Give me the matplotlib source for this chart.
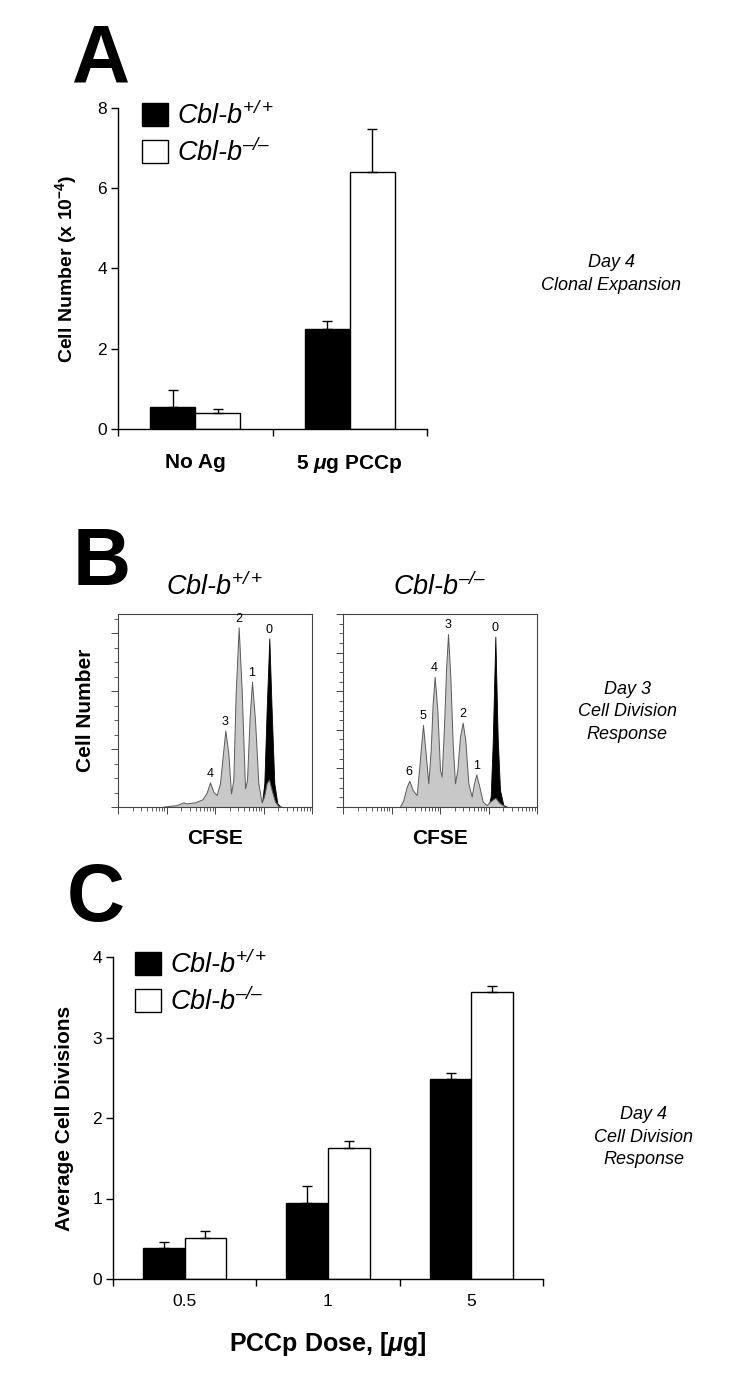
import numpy as np
import matplotlib
matplotlib.use('Agg')
import matplotlib.pyplot as plt
from matplotlib.ticker import MultipleLocator, LogLocator, NullFormatter

plt.rcParams['font.family'] = ['Liberation Sans', 'DejaVu Sans']
plt.rcParams['mathtext.fontset'] = 'custom'
plt.rcParams['mathtext.rm'] = 'Liberation Sans:style=italic'
plt.rcParams['mathtext.it'] = 'Liberation Sans:style=italic:weight=bold'
plt.rcParams['mathtext.bf'] = 'Liberation Sans:weight=bold'

wt_label = 'Cbl-b$^{+/+}$'
ko_label = 'Cbl-b$^{\u2013/\u2013}$'

# ---- panel A: clonal expansion, day 4
groups_a = ['No Ag', '5 $\\mu$g PCCp']
wt_a = [0.55, 2.50]
wt_a_err = [0.43, 0.18]
ko_a = [0.40, 6.40]
ko_a_err = [0.10, 1.08]

# ---- panel B: CFSE histograms (log10 CFSE, % of axis height)
wt_gray_x = [0.935, 1.210, 1.347, 1.416, 1.588, 1.739, 1.828, 1.897, 1.966, 2.034,
             2.103, 2.158, 2.213, 2.275, 2.330, 2.378, 2.426, 2.488, 2.550, 2.619,
             2.660, 2.715, 2.763, 2.825, 2.893, 2.962, 3.010, 3.065, 3.113, 3.168,
             3.237, 3.306, 3.375]
wt_gray_y = [0.2, 1.0, 2.4, 1.9, 2.4, 4.0, 7.4, 12.8, 7.9, 6.2,
             12.3, 26.1, 39.6, 27.8, 7.1, 14.0, 58.9, 93.1, 60.6, 9.7,
             14.0, 46.8, 64.9, 45.1, 12.3, 2.4, 5.4, 12.3, 14.3, 8.8,
             2.8, 0.5, 0.2]
wt_black_x = [2.962, 3.017, 3.065, 3.120, 3.168, 3.223, 3.285, 3.340]
wt_black_y = [0.5, 12.3, 50.3, 87.4, 50.3, 12.3, 1.9, 0.5]
wt_peak_x = [1.897, 2.213, 2.488, 2.763, 3.120]
wt_peak_y = [12.8, 39.6, 93.1, 64.9, 87.4]
wt_peak_lab = ['4', '3', '2', '1', '0']

ko_gray_x = [1.175, 1.244, 1.313, 1.368, 1.436, 1.519, 1.574, 1.615, 1.649, 1.698,
             1.759, 1.808, 1.849, 1.890, 1.945, 2.000, 2.034, 2.082, 2.124, 2.165,
             2.213, 2.261, 2.309, 2.357, 2.412, 2.467, 2.522, 2.584, 2.653, 2.701,
             2.749, 2.811, 2.880, 2.962, 3.031, 3.141, 3.223, 3.340]
ko_gray_y = [0.2, 3.6, 10.5, 13.6, 8.8, 6.2, 20.9, 33.0, 42.5, 29.5,
             12.3, 29.5, 53.7, 67.5, 50.3, 19.2, 15.7, 41.6, 71.0, 89.6,
             67.5, 33.0, 12.3, 19.2, 36.4, 43.7, 34.7, 12.3, 5.4, 12.3,
             16.9, 10.5, 2.8, 1.0, 2.8, 4.8, 2.2, 0.2]
ko_black_x = [2.997, 3.045, 3.086, 3.141, 3.189, 3.237, 3.306, 3.375]
ko_black_y = [0.2, 5.4, 33.0, 88.3, 36.4, 8.8, 1.0, 0.2]
ko_peak_x = [1.368, 1.649, 1.890, 2.165, 2.467, 2.749, 3.141]
ko_peak_y = [13.6, 42.5, 67.5, 89.6, 43.7, 16.9, 88.3]
ko_peak_lab = ['6', '5', '4', '3', '2', '1', '0']

# ---- panel C: average cell divisions, day 4
doses_c = ['0.5', '1', '5']
wt_c = [0.39, 0.95, 2.48]
wt_c_err = [0.075, 0.20, 0.08]
ko_c = [0.51, 1.63, 3.56]
ko_c_err = [0.09, 0.085, 0.075]

W, H = 737, 1389
fig = plt.figure(figsize=(W / 100, H / 100), dpi=100)


def fig_axes(l, t, r, b):
    return fig.add_axes([l / W, 1 - b / H, (r - l) / W, (b - t) / H])


def bar_panel(ax, cats, wt, wt_err, ko, ko_err, ymax, ystep, catweight, legend_x):
    x = np.arange(len(cats))
    w = 0.29
    ekw = dict(ecolor='black', elinewidth=1, capsize=3.5, capthick=1)
    ax.bar(x - w / 2, wt, w, color='black', edgecolor='black', lw=1,
           yerr=[np.zeros(len(wt)), wt_err], error_kw=ekw, label=wt_label)
    ax.bar(x + w / 2, ko, w, color='white', edgecolor='black', lw=1,
           yerr=[np.zeros(len(ko)), ko_err], error_kw=ekw, label=ko_label)
    ax.set_xlim(-0.5, len(cats) - 0.5)
    ax.set_ylim(0, ymax)
    ax.yaxis.set_major_locator(MultipleLocator(ystep))
    ax.spines[['top', 'right']].set_visible(False)
    for s in ['left', 'bottom']:
        ax.spines[s].set_linewidth(1)
    ax.tick_params(axis='y', length=5, width=1, labelsize=12.5, pad=3)
    ax.set_xticks(x, cats, fontweight=catweight)
    ax.set_xticks(np.arange(len(cats) + 1) - 0.5, minor=True)
    ax.tick_params(axis='x', which='minor', length=5, width=1)
    ax.legend(loc='upper left', bbox_to_anchor=(legend_x, 1.02), frameon=False,
              prop=dict(style='italic', size=19.5), handlelength=0.95,
              handleheight=0.95, handletextpad=0.35, labelspacing=0.3,
              borderpad=0, borderaxespad=0)


def hist_panel(ax, gx, gy, bx, by, pkx, pky, pkl, title, ymajor, yminor):
    ax.fill_between(10 ** np.array(bx), by, facecolor='black', edgecolor='black', lw=0.6)
    ax.fill_between(10 ** np.array(gx), gy, facecolor='#c8c8c8', edgecolor='#5a5a5a', lw=0.7)
    for px, py, lab in zip(pkx, pky, pkl):
        ax.annotate(lab, (10 ** px, py), xytext=(0, 2), textcoords='offset points',
                    ha='center', va='bottom', fontsize=9)
    ax.set_xscale('log')
    ax.set_xlim(1, 1e4)
    ax.set_ylim(0, 100)
    ax.xaxis.set_major_locator(LogLocator(base=10, numticks=10))
    ax.xaxis.set_minor_locator(LogLocator(base=10, subs=range(2, 10), numticks=10))
    ax.xaxis.set_major_formatter(NullFormatter())
    ax.xaxis.set_minor_formatter(NullFormatter())
    ax.yaxis.set_major_locator(MultipleLocator(ymajor))
    ax.yaxis.set_minor_locator(MultipleLocator(yminor))
    ax.yaxis.set_major_formatter(NullFormatter())
    for s in ax.spines.values():
        s.set_color('#444444')
        s.set_linewidth(0.8)
    ax.tick_params(which='major', length=5, width=0.7, color='#444444')
    ax.tick_params(which='minor', length=3, width=0.6, color='#444444')
    ax.set_title(title, fontsize=19.5, style='italic', pad=14)
    ax.set_xlabel('CFSE', fontsize=15, fontweight='bold', labelpad=7)


# A
ax_a = fig_axes(118, 108, 427, 429)
bar_panel(ax_a, groups_a, wt_a, wt_a_err, ko_a, ko_a_err, 8, 2, 'bold', 0.078)
ax_a.tick_params(axis='x', which='major', length=0, pad=17, labelsize=15)
ax_a.set_ylabel('Cell Number (x 10$^{\\mathbf{-4}}$)', fontsize=14, fontweight='bold')
ax_a.yaxis.set_label_coords(-0.125, 0.5)

# B
ax_b1 = fig_axes(118, 614, 312, 807)
hist_panel(ax_b1, wt_gray_x, wt_gray_y, wt_black_x, wt_black_y,
           wt_peak_x, wt_peak_y, wt_peak_lab, wt_label, 30, 7.5)
ax_b1.set_ylabel('Cell Number', fontsize=15, fontweight='bold')
ax_b1.yaxis.set_label_coords(-0.12, 0.5)
ax_b2 = fig_axes(343, 614, 537, 807)
hist_panel(ax_b2, ko_gray_x, ko_gray_y, ko_black_x, ko_black_y,
           ko_peak_x, ko_peak_y, ko_peak_lab, ko_label, 20, 5)

# C
ax_c = fig_axes(113, 957, 543, 1279)
bar_panel(ax_c, doses_c, wt_c, wt_c_err, ko_c, ko_c_err, 4, 1, 'normal', 0.051)
ax_c.tick_params(axis='x', which='major', length=0, pad=11, labelsize=12.5)
ax_c.set_ylabel('Average Cell Divisions', fontsize=15, fontweight='bold')
ax_c.yaxis.set_label_coords(-0.09, 0.5)
ax_c.set_xlabel('PCCp Dose, [$\\mu$g]', fontsize=18, fontweight='bold')
ax_c.xaxis.set_label_coords(0.5, -0.158)

# panel letters
for lab, lx, by in [('A', 72, 82), ('B', 73, 585), ('C', 67, 921)]:
    fig.text(lx / W, 1 - by / H, lab, fontsize=58, fontweight='bold',
             ha='left', va='baseline')

# side notes
for txt, cx, cy in [('Day 4\nClonal Expansion', 611, 274),
                    ('Day 3\nCell Division\nResponse', 627, 712),
                    ('Day 4\nCell Division\nResponse', 644, 1137)]:
    fig.text(cx / W, 1 - cy / H, txt, fontsize=13, style='italic',
             ha='center', va='center', linespacing=1.45)

fig.savefig('out.png', dpi=100)
